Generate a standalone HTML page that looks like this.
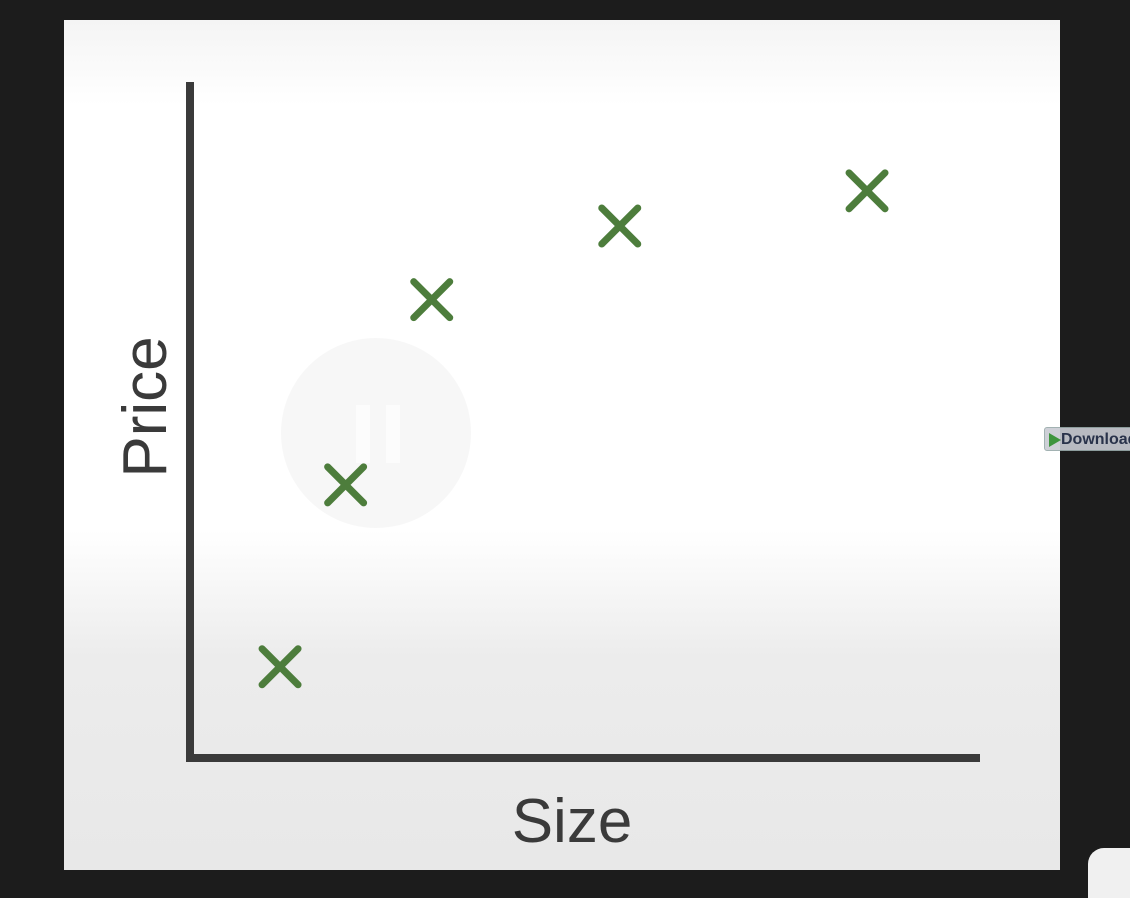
<!DOCTYPE html>
<html><head><meta charset="utf-8"><style>
html,body{margin:0;padding:0;width:1130px;height:882px;background:#1c1c1c;overflow:hidden;font-family:"Liberation Sans",sans-serif}
#panel{position:absolute;left:64px;top:20px;width:996px;height:850px;background:linear-gradient(#f4f4f4 0%,#ffffff 10%,#ffffff 60%,#ececec 75%,#e8e8e8 100%)}
#dl{position:absolute;left:1044px;top:427px;width:100px;height:24px;background:#c9ccd3;border:1px solid #9aa;border-radius:3px;font-size:16px;font-weight:bold;color:#2b3550;line-height:24px;padding-left:16px;box-sizing:border-box;opacity:.9}
#dl:before{content:"";position:absolute;left:4px;top:5px;border-left:12px solid #2a8a2a;border-top:7px solid transparent;border-bottom:7px solid transparent}
#corner{position:absolute;left:1088px;top:848px;width:60px;height:50px;background:#f0f0f0;border-radius:16px 0 0 0}
</style></head><body>
<div id="panel"></div>
<svg width="1130" height="882" style="position:absolute;left:0;top:0">
<circle cx="376" cy="433" r="95" fill="#e4e4e4" opacity="0.3"/>
<rect x="356" y="405" width="14" height="58" fill="#fff" opacity="0.6"/>
<rect x="386" y="405" width="14" height="58" fill="#fff" opacity="0.6"/>
<g id="marks"></g>
<line x1="190" y1="82" x2="190" y2="762" stroke="#3a3a3a" stroke-width="8"/>
<line x1="186" y1="758" x2="980" y2="758" stroke="#3a3a3a" stroke-width="8"/>
<text x="572" y="842" font-size="62" fill="#3a3a3a" text-anchor="middle" font-family="Liberation Sans, sans-serif">Size</text>
<text transform="translate(166,407) rotate(-90)" font-size="62" fill="#3a3a3a" text-anchor="middle" font-family="Liberation Sans, sans-serif">Price</text>
</svg>
<div id="dl">Download</div>
<div id="corner"></div>
<script>
const sizes=[1.14,1.97,3.06,5.44,8.57];
const prices=[1.35,4.04,6.78,7.87,8.39];
function xs(v){return 190+v*79;}
function ys(v){return 758-v*67.6;}
const g=document.getElementById('marks');
const NS='http://www.w3.org/2000/svg';
sizes.forEach((s,i)=>{
  const cx=xs(s),cy=ys(prices[i]),r=18;
  const p=document.createElementNS(NS,'path');
  p.setAttribute('d',`M${cx-r},${cy-r}L${cx+r},${cy+r}M${cx+r},${cy-r}L${cx-r},${cy+r}`);
  p.setAttribute('stroke','#4d7d3c');
  p.setAttribute('stroke-width','7');
  p.setAttribute('stroke-linecap','round');
  
  
  g.appendChild(p);
});
</script>
</body></html>
